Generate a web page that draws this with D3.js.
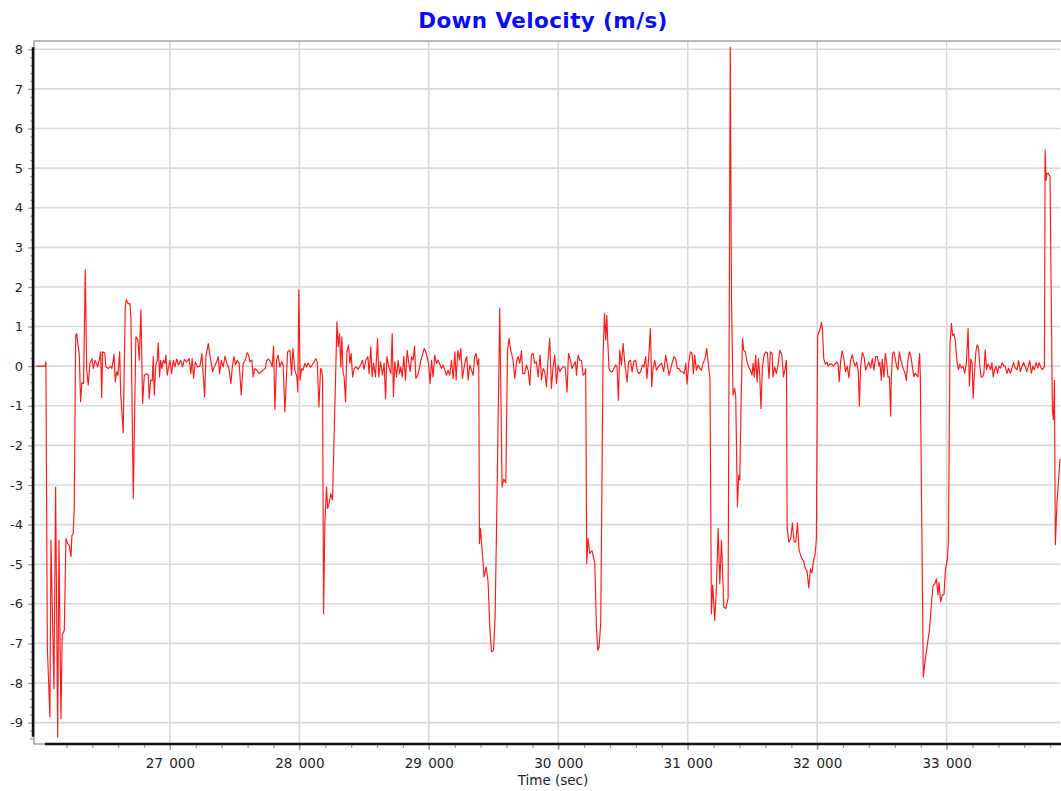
<!DOCTYPE html>
<html>
<head>
<meta charset="utf-8">
<script src="https://cdnjs.cloudflare.com/ajax/libs/d3/7.8.5/d3.min.js"></script>
<style>
  body { margin: 0; background: #fff; }
  svg { display: block; font-family: "DejaVu Sans", Verdana, sans-serif; }
</style>
</head>
<body>
<div id="chart"></div>
<script>
// chart text
const chartTitle = "Down Velocity (m/s)";
const xAxisTitle = "Time (sec)";

// tick values
const xTickValues = [27000, 28000, 29000, 30000, 31000, 32000, 33000];
const yTickValues = [-9, -8, -7, -6, -5, -4, -3, -2, -1, 0, 1, 2, 3, 4, 5, 6, 7, 8];

// axis ranges
const timeRange = [25950, 33876];
const velocityRange = [-9.54, 8.21];

// [time (sec), down velocity (m/s)]
const downVelocity = [
  [25965, 0.0], [26035, 0.0], [26042, 0.11], [26053, -7.09], [26073, -8.86], [26081, -4.39],
  [26104, -8.14], [26117, -3.05], [26133, -9.36], [26143, -4.39], [26158, -8.9], [26168, -6.79],
  [26184, -6.67], [26197, -4.35], [26210, -4.48], [26222, -4.52], [26236, -4.81], [26243, -4.27],
  [26253, -4.23], [26261, -3.55], [26272, 0.78], [26280, 0.82], [26300, 0.28], [26310, -0.9],
  [26320, -0.42], [26333, -0.44], [26346, 2.44], [26357, -0.1], [26369, -0.48], [26382, 0.07],
  [26398, 0.19], [26408, -0.06], [26423, 0.15], [26442, -0.02], [26454, 0.15], [26465, 0.36],
  [26473, -0.79], [26480, 0.36], [26496, 0.34], [26506, -0.02], [26524, -0.06], [26542, 0.0],
  [26552, -0.06], [26568, 0.29], [26578, -0.4], [26588, -0.14], [26598, -0.23], [26612, 0.36],
  [26619, -0.65], [26639, -1.68], [26655, 1.5], [26663, 1.68], [26676, 1.58], [26691, 1.58],
  [26699, 1.2], [26717, -3.34], [26737, 0.74], [26753, 0.66], [26763, 0.15], [26776, 1.43],
  [26789, -0.94], [26802, -0.23], [26820, -0.19], [26833, -0.23], [26840, -0.82], [26851, -0.35],
  [26864, -0.37], [26871, 0.24], [26879, -0.73], [26892, 0.03], [26902, 0.15], [26910, 0.59],
  [26920, -0.27], [26928, 0.15], [26938, -0.06], [26948, 0.15], [26961, 0.07], [26969, 0.28],
  [26979, -0.23], [26990, -0.02], [27000, 0.15], [27013, -0.19], [27026, 0.15], [27039, -0.02],
  [27052, 0.18], [27067, 0.03], [27083, 0.15], [27098, -0.02], [27111, 0.17], [27129, 0.11],
  [27149, 0.19], [27162, -0.19], [27172, 0.19], [27183, -0.31], [27196, 0.11], [27214, -0.02],
  [27232, 0.0], [27247, 0.32], [27257, -0.23], [27268, -0.77], [27278, 0.24], [27296, 0.57],
  [27309, 0.28], [27330, -0.14], [27342, -0.02], [27361, 0.11], [27373, 0.24], [27384, -0.19],
  [27396, 0.15], [27412, -0.02], [27425, 0.25], [27440, 0.07], [27456, -0.06], [27471, -0.44],
  [27481, -0.06], [27494, 0.24], [27507, 0.03], [27520, 0.15], [27535, 0.07], [27551, -0.73],
  [27566, 0.07], [27582, 0.15], [27597, 0.34], [27608, 0.28], [27618, 0.11], [27633, 0.15],
  [27643, -0.27], [27656, -0.06], [27672, -0.1], [27690, -0.19], [27705, -0.14], [27720, -0.1],
  [27736, -0.06], [27749, 0.15], [27762, 0.18], [27778, 0.11], [27790, -0.02], [27801, 0.51],
  [27811, -1.09], [27824, 0.15], [27836, 0.28], [27849, -0.02], [27863, 0.11], [27875, 0.03],
  [27888, -1.15], [27909, 0.36], [27927, 0.4], [27940, -0.23], [27950, 0.45], [27965, -0.1],
  [27981, -0.27], [27988, -0.65], [27996, 1.92], [28006, -0.35], [28017, -0.06], [28029, -0.1],
  [28042, 0.07], [28056, -0.02], [28068, 0.08], [28084, -0.03], [28099, 0.03], [28114, 0.11],
  [28127, 0.19], [28138, 0.11], [28151, -1.03], [28164, -0.06], [28172, -0.1], [28179, -0.27],
  [28187, -6.25], [28197, -3.97], [28210, -3.05], [28218, -3.59], [28230, -3.47], [28243, -3.22],
  [28256, -3.38], [28280, -0.27], [28290, 1.12], [28300, 0.49], [28310, 0.82], [28320, -0.02],
  [28328, 0.74], [28338, -0.19], [28346, -0.27], [28357, -0.9], [28367, 0.36], [28380, 0.53],
  [28390, 0.07], [28400, 0.32], [28411, -0.27], [28423, -0.06], [28439, -0.02], [28454, -0.08],
  [28473, 0.03], [28488, 0.15], [28500, -0.08], [28514, 0.15], [28529, 0.24], [28539, -0.19],
  [28552, 0.49], [28562, -0.27], [28573, 0.07], [28588, -0.27], [28604, 0.7], [28614, -0.27],
  [28627, 0.11], [28642, -0.23], [28655, 0.07], [28666, -0.82], [28676, 0.24], [28691, -0.02],
  [28707, -0.19], [28717, 0.82], [28727, -0.77], [28737, 0.11], [28751, -0.27], [28763, 0.15],
  [28774, -0.19], [28784, -0.02], [28794, -0.27], [28807, 0.24], [28820, -0.35], [28833, 0.4],
  [28846, 0.07], [28856, -0.14], [28867, 0.24], [28879, 0.15], [28890, 0.51], [28900, -0.31],
  [28913, -0.23], [28925, -0.1], [28938, 0.15], [28951, 0.28], [28964, 0.45], [28977, 0.36],
  [28990, 0.19], [29000, 0.0], [29010, -0.44], [29021, 0.15], [29033, -0.27], [29046, 0.28],
  [29059, 0.07], [29072, 0.15], [29087, 0.03], [29098, -0.06], [29110, 0.03], [29124, -0.1],
  [29137, -0.23], [29149, -0.1], [29162, -0.23], [29175, 0.15], [29188, -0.31], [29201, 0.36],
  [29211, -0.35], [29224, 0.4], [29237, 0.15], [29247, 0.45], [29260, -0.31], [29273, -0.02],
  [29283, 0.15], [29293, 0.24], [29304, -0.35], [29317, 0.03], [29330, -0.1], [29342, -0.23],
  [29355, 0.24], [29365, 0.32], [29376, 0.03], [29386, 0.19], [29391, -4.48], [29399, -4.1],
  [29412, -4.65], [29427, -5.32], [29443, -5.07], [29458, -5.45], [29471, -6.58], [29484, -7.21],
  [29500, -7.17], [29512, -6.33], [29525, -3.72], [29548, 1.46], [29566, -3.05], [29579, -2.85],
  [29595, -2.95], [29608, 0.4], [29620, 0.7], [29633, 0.4], [29651, 0.15], [29664, -0.31],
  [29680, 0.15], [29690, 0.24], [29703, 0.07], [29716, 0.39], [29726, -0.19], [29741, -0.19],
  [29754, 0.03], [29767, -0.1], [29780, -0.48], [29793, 0.28], [29805, 0.32], [29818, 0.07],
  [29831, 0.11], [29844, -0.27], [29860, 0.28], [29870, -0.35], [29883, -0.06], [29896, -0.14],
  [29909, -0.52], [29921, 0.15], [29934, 0.7], [29947, -0.56], [29960, -0.02], [29973, 0.28],
  [29986, -0.44], [29999, 0.03], [30012, -0.14], [30025, -0.06], [30037, -0.02], [30053, -0.02],
  [30068, -0.65], [30079, 0.32], [30094, 0.15], [30107, -0.06], [30120, 0.03], [30133, 0.11],
  [30141, -0.23], [30153, 0.28], [30166, 0.15], [30179, 0.15], [30192, -0.23], [30205, -0.19],
  [30212, -0.06], [30220, -4.98], [30230, -4.35], [30243, -4.73], [30261, -4.66], [30282, -4.98],
  [30295, -6.6], [30305, -7.17], [30315, -7.1], [30328, -6.5], [30346, 0.24], [30357, 1.33],
  [30367, 0.66], [30375, 1.29], [30382, 0.66], [30392, -0.06], [30405, -0.14], [30419, -0.14],
  [30429, -0.06], [30444, 0.03], [30454, -0.02], [30465, -0.86], [30475, 0.4], [30488, 0.03],
  [30501, 0.57], [30514, 0.07], [30532, -0.4], [30544, 0.11], [30558, 0.15], [30570, -0.14],
  [30583, 0.11], [30598, 0.15], [30612, -0.14], [30624, -0.19], [30637, -0.14], [30650, 0.03],
  [30662, -0.02], [30675, 0.24], [30685, -0.31], [30699, 0.24], [30712, 0.95], [30722, -0.52],
  [30732, -0.06], [30745, 0.15], [30758, -0.1], [30771, -0.02], [30784, 0.03], [30799, 0.07],
  [30815, -0.14], [30830, 0.28], [30843, 0.03], [30856, -0.23], [30869, -0.06], [30882, 0.11],
  [30894, 0.24], [30907, 0.19], [30920, -0.06], [30933, -0.06], [30946, -0.14], [30959, -0.14],
  [30972, -0.19], [30985, 0.07], [30995, -0.45], [31008, 0.07], [31021, 0.36], [31034, 0.32],
  [31044, -0.19], [31054, 0.28], [31067, -0.1], [31080, 0.03], [31093, -0.06], [31106, -0.1],
  [31118, 0.07], [31134, 0.19], [31147, 0.45], [31160, 0.03], [31172, -0.31], [31183, -6.25],
  [31193, -5.53], [31209, -6.42], [31222, -5.57], [31235, -4.1], [31248, -5.49], [31261, -4.39],
  [31279, -6.08], [31294, -6.12], [31312, -5.86], [31329, 8.05], [31338, 1.74], [31350, -0.73],
  [31363, -0.56], [31371, -0.77], [31384, -3.55], [31394, -2.75], [31402, -2.88], [31412, -1.0],
  [31423, 0.7], [31433, 0.4], [31446, 0.36], [31458, 0.11], [31471, -0.02], [31484, -0.1],
  [31497, -0.23], [31505, 0.07], [31515, -0.27], [31525, 0.28], [31536, -0.4], [31546, 0.19],
  [31556, -0.19], [31566, -1.07], [31577, -0.02], [31590, 0.28], [31603, 0.36], [31616, 0.34],
  [31628, -0.31], [31639, 0.36], [31652, 0.32], [31659, -0.27], [31672, -0.02], [31685, -0.19],
  [31698, 0.03], [31711, 0.4], [31727, 0.28], [31740, -0.27], [31750, -0.1], [31763, 0.15],
  [31768, -4.06], [31781, -4.44], [31796, -4.35], [31809, -3.96], [31822, -4.44], [31835, -4.44],
  [31848, -3.96], [31860, -4.64], [31873, -4.78], [31886, -4.88], [31896, -4.93], [31909, -5.12],
  [31922, -5.17], [31935, -5.6], [31948, -5.12], [31960, -5.22], [31973, -4.88], [31983, -4.78],
  [31994, -4.35], [32004, 0.77], [32015, 0.87], [32026, 0.97], [32033, 1.11], [32041, 0.92],
  [32051, 0.19], [32064, 0.05], [32075, 0.1], [32085, 0.0], [32098, 0.05], [32111, 0.05],
  [32124, 0.0], [32137, 0.05], [32150, 0.1], [32162, 0.05], [32170, -0.39], [32181, 0.1],
  [32193, 0.39], [32206, 0.19], [32219, -0.14], [32232, 0.0], [32245, -0.29], [32258, 0.14],
  [32271, 0.29], [32282, 0.1], [32292, 0.0], [32305, 0.1], [32318, -0.14], [32326, -1.01],
  [32336, 0.0], [32349, 0.34], [32362, 0.24], [32375, -0.1], [32387, 0.0], [32400, 0.1],
  [32413, -0.05], [32426, 0.19], [32439, -0.1], [32452, 0.24], [32465, 0.24], [32478, 0.0],
  [32485, 0.1], [32496, -0.36], [32503, 0.18], [32516, -0.27], [32527, 0.32], [32537, 0.09],
  [32547, -0.27], [32558, -0.27], [32568, -1.26], [32573, -0.27], [32583, 0.32], [32593, 0.36],
  [32604, 0.18], [32614, 0.0], [32624, -0.09], [32635, 0.36], [32645, 0.18], [32655, 0.05],
  [32666, -0.09], [32676, -0.14], [32689, -0.36], [32702, 0.18], [32713, 0.36], [32723, 0.27],
  [32735, 0.0], [32748, -0.27], [32758, -0.18], [32769, -0.23], [32779, -0.27], [32786, 0.14],
  [32792, 0.32], [32797, -0.27], [32820, -7.85], [32836, -7.39], [32851, -7.03], [32867, -6.67],
  [32882, -6.04], [32895, -5.55], [32908, -5.5], [32921, -5.37], [32933, -5.77], [32941, -5.46],
  [32954, -5.95], [32967, -5.77], [32980, -5.77], [32991, -5.14], [33006, -4.87], [33014, -4.42],
  [33026, 0.54], [33037, 1.08], [33047, 0.77], [33057, 0.81], [33068, 0.63], [33081, 0.09],
  [33092, -0.09], [33102, 0.05], [33115, -0.05], [33127, 0.0], [33140, -0.18], [33153, 0.09],
  [33166, 0.95], [33176, -0.5], [33187, 0.18], [33197, 0.09], [33205, -0.81], [33215, -0.18],
  [33226, 0.36], [33236, 0.54], [33247, 0.45], [33257, 0.0], [33267, -0.27], [33278, -0.27],
  [33288, -0.18], [33298, 0.41], [33309, -0.09], [33319, 0.05], [33329, 0.0], [33340, -0.09],
  [33350, 0.09], [33360, -0.27], [33371, -0.09], [33381, 0.0], [33394, -0.18], [33404, 0.0],
  [33417, -0.05], [33430, 0.09], [33443, 0.0], [33453, 0.0], [33466, -0.18], [33479, -0.05],
  [33492, -0.18], [33505, -0.05], [33518, 0.09], [33531, -0.05], [33544, -0.09], [33557, 0.14],
  [33570, -0.14], [33583, 0.0], [33596, 0.09], [33606, 0.0], [33619, -0.14], [33632, 0.0],
  [33642, 0.14], [33655, -0.18], [33666, 0.0], [33678, -0.09], [33691, 0.09], [33704, -0.05],
  [33714, 0.09], [33725, 0.0], [33738, -0.09], [33748, -0.05], [33756, 0.0], [33761, 5.46],
  [33769, 4.69], [33776, 4.87], [33786, 4.87], [33799, 4.78], [33817, -1.08], [33825, -1.35],
  [33833, -0.36], [33840, -4.51], [33853, -3.43], [33863, -2.98], [33876, -2.34]
];

const width = 1061, height = 791;
const plot = { left: 34, right: 1060, top: 41, bottom: 744 };

const svg = d3.select("#chart").append("svg")
  .attr("width", width)
  .attr("height", height);

const x = d3.scaleLinear().domain(timeRange).range([plot.left, plot.right]);
const y = d3.scaleLinear().domain(velocityRange).range([plot.bottom, plot.top]);

// grid lines
const grid = svg.append("g").attr("stroke", "#d9d9d9").attr("stroke-width", 1.6);
grid.selectAll(".hgrid").data(yTickValues).join("line")
  .attr("x1", plot.left).attr("x2", plot.right)
  .attr("y1", d => y(d)).attr("y2", d => y(d));
grid.selectAll(".vgrid").data(xTickValues).join("line")
  .attr("x1", d => x(d)).attr("x2", d => x(d))
  .attr("y1", plot.top).attr("y2", plot.bottom + 6);

// frame
svg.append("rect")
  .attr("x", plot.left).attr("y", plot.top)
  .attr("width", plot.right - plot.left + 2).attr("height", plot.bottom - plot.top)
  .attr("fill", "none").attr("stroke", "#8c8c8c").attr("stroke-width", 1.2);

// x axis: minor ticks every 200 s, labels every 1000 s
const xMinor = d3.axisBottom(x).tickValues(d3.range(26200, 33900, 200)).tickSize(4).tickFormat("");
const xMajor = d3.axisBottom(x).tickValues(xTickValues).tickSize(6).tickPadding(8)
  .tickFormat(d => d3.format(",")(d).replace(",", " "));

const gxMinor = svg.append("g").attr("transform", `translate(0,${plot.bottom})`).call(xMinor);
const gxMajor = svg.append("g").attr("transform", `translate(0,${plot.bottom})`).call(xMajor);

// y axis: minor ticks every 0.2, labels every 1
const yMinor = d3.axisLeft(y).tickValues(d3.range(-9.4, 8.2, 0.2)).tickSize(3).tickFormat("");
const yMajor = d3.axisLeft(y).tickValues(yTickValues).tickSize(5).tickPadding(5)
  .tickFormat(d => String(d));

const gyMinor = svg.append("g").attr("transform", `translate(${plot.left - 1},0)`).call(yMinor);
const gyMajor = svg.append("g").attr("transform", `translate(${plot.left - 1},0)`).call(yMajor);

[gxMinor, gxMajor, gyMinor, gyMajor].forEach(g => {
  g.select(".domain").remove();
  g.selectAll(".tick line").attr("stroke", "#a0a0a0").attr("stroke-width", 1.2);
  g.selectAll("text").attr("fill", "#1e1e2a").attr("font-size", 13)
    .attr("font-family", "DejaVu Sans, Verdana, sans-serif");
});
gxMajor.selectAll("text").attr("word-spacing", 2).attr("font-size", 13.5);

// black axis lines spanning the data
const vExtent = d3.extent(downVelocity, d => d[1]);
svg.append("line")
  .attr("x1", plot.left - 1).attr("x2", plot.left - 1)
  .attr("y1", y(vExtent[1])).attr("y2", y(vExtent[0]))
  .attr("stroke", "#111").attr("stroke-width", 2.5);
svg.append("line")
  .attr("x1", x(downVelocity[1][0])).attr("x2", plot.right + 1)
  .attr("y1", plot.bottom).attr("y2", plot.bottom)
  .attr("stroke", "#111").attr("stroke-width", 2.5);

// series
const line = d3.line().x(d => x(d[0])).y(d => y(d[1]));
svg.append("path")
  .datum(downVelocity)
  .attr("d", line)
  .attr("fill", "none")
  .attr("stroke", "#ff1a1a")
  .attr("stroke-width", 1.15)
  .attr("stroke-linejoin", "round");

// titles
svg.append("text")
  .attr("x", 543).attr("y", 28)
  .attr("text-anchor", "middle")
  .attr("font-size", 21.5).attr("font-weight", "bold")
  .attr("letter-spacing", 0.4)
  .attr("fill", "#0a0aff")
  .text(chartTitle);

svg.append("text")
  .attr("x", 553).attr("y", 785)
  .attr("text-anchor", "middle")
  .attr("font-size", 13.5)
  .attr("fill", "#1e1e2a")
  .text(xAxisTitle);
</script>
</body>
</html>
